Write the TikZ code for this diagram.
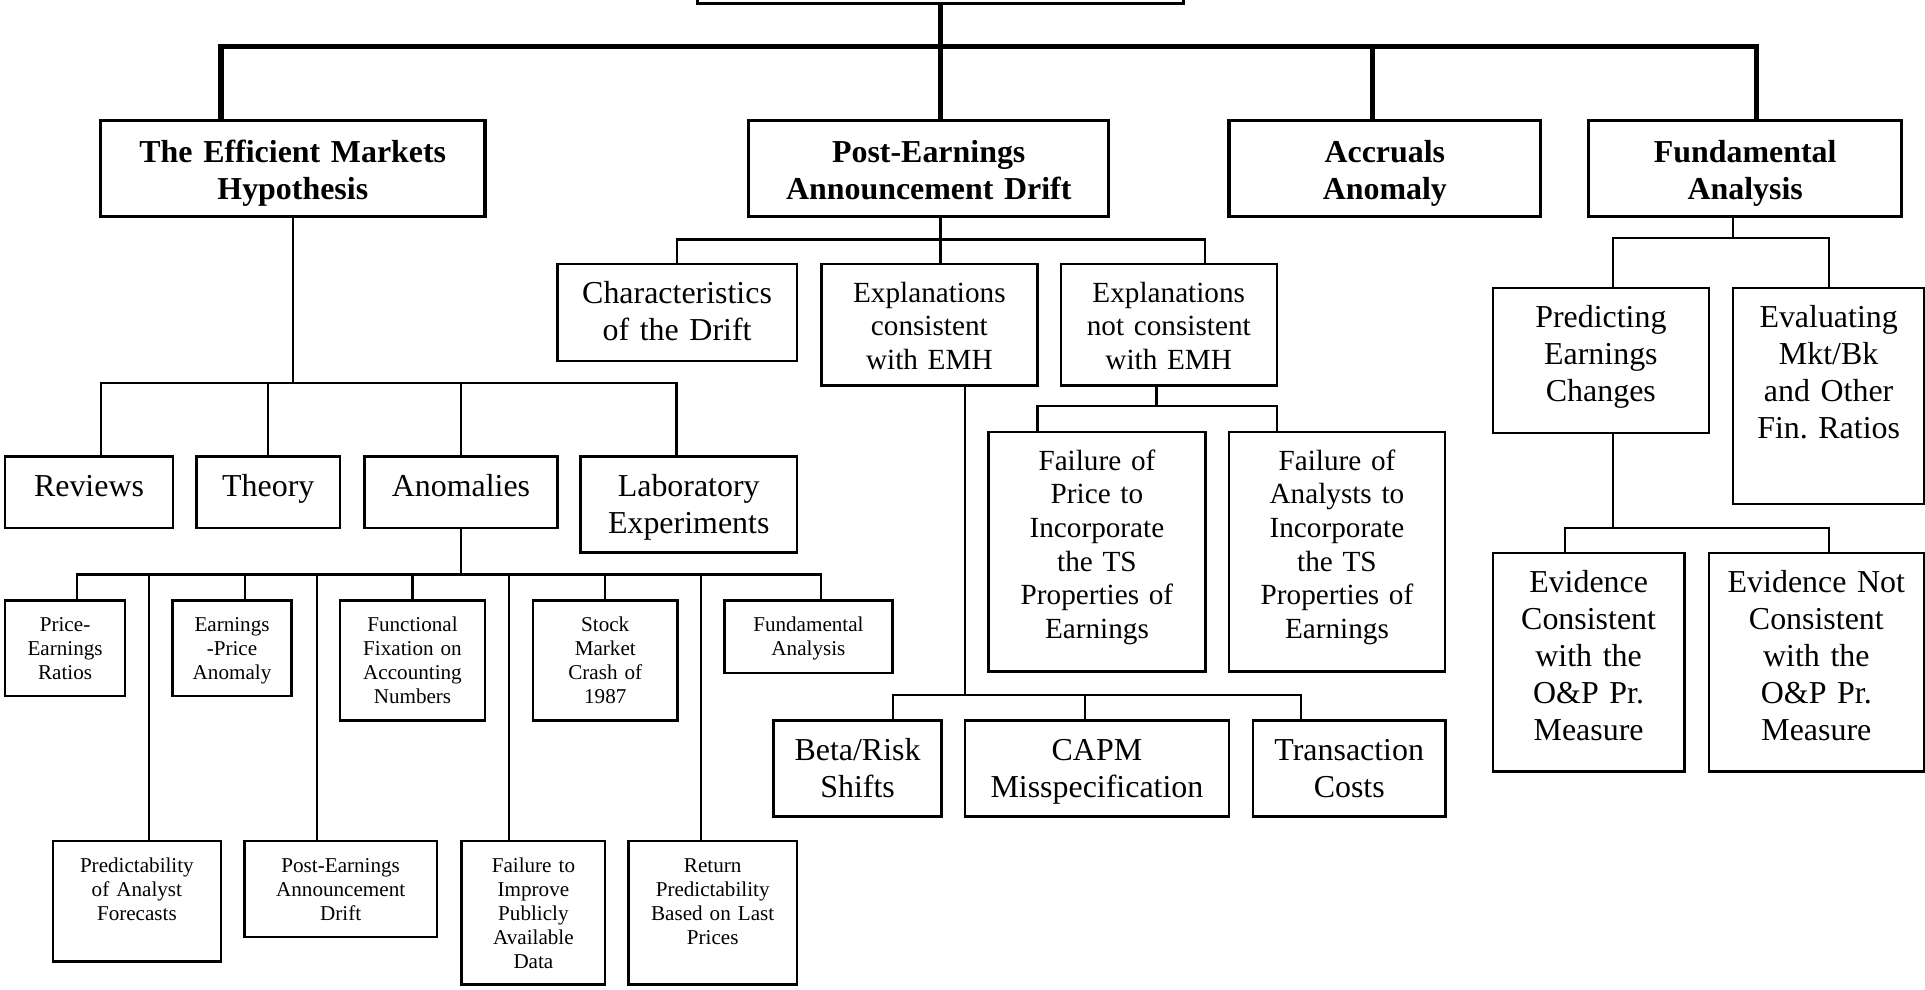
\documentclass[tikz,border=0pt]{standalone}
\usepackage{fontspec}
\setmainfont{Liberation Serif}
\frenchspacing
\tikzset{
  headbox/.style={draw, line width=2.6pt, anchor=north, align=center, inner sep=0pt,
    text height=34pt, font=\bfseries\fontsize{26}{30}\selectfont},
  catbox/.style={draw, line width=2pt, anchor=north, align=center, inner sep=0pt,
    text height=32.5pt, font=\fontsize{26}{30}\selectfont},
  midbox/.style={catbox, text height=31pt, font=\fontsize{23.8}{27.4}\selectfont},
  smallbox/.style={catbox, text height=25.5pt, font=\fontsize{17.2}{19.6}\selectfont},
  trunk/.style={line width=4.3pt},
  link/.style={line width=1.8pt}
}
\begin{document}
\begin{tikzpicture}[x=1pt, y=-1pt]
      \useasboundingbox (0,0) rectangle (1568,806);
      % top level
      \node[headbox, text width=396pt, text depth=47.3pt] (root) at (766,-80) {};
      \node[headbox, text width=313pt, text depth=44pt] (emh) at (238.5,97) {The Efficient Markets\\Hypothesis};
      \node[headbox, text width=293pt, text depth=44pt] (pead) at (756.5,97) {Post-Earnings\\Announcement Drift};
      \node[headbox, text width=254pt, text depth=44pt] (accr) at (1128,97) {Accruals\\Anomaly};
      \node[headbox, text width=255pt, text depth=44pt] (fund) at (1421.5,97) {Fundamental\\Analysis};
      \coordinate (mainbar) at (766,38);
      \draw[trunk] (root.south) -- (root.south |- pead.north);
      \draw[trunk] ([xshift=-58.5pt]emh.north) |- (mainbar) -| ([xshift=9.5pt]fund.north);
      \draw[trunk] ([xshift=-10pt]accr.north) -- ([xshift=-10pt]accr.north |- mainbar);
      % efficient markets
      \node[catbox, text width=137pt, text depth=25.5pt] (reviews) at (72.5,371) {Reviews};
      \node[catbox, text width=117pt, text depth=25.5pt] (theory) at (218.5,371) {Theory};
      \node[catbox, text width=157pt, text depth=25.5pt] (anom) at (375.5,371) {Anomalies};
      \node[catbox, text width=176pt, text depth=45.5pt] (lab) at (561,371) {Laboratory\\Experiments};
      \node[smallbox, text width=98pt, text depth=52.5pt] (pe) at (53,488) {Price-\\Earnings\\Ratios};
      \node[smallbox, text width=97pt, text depth=52.5pt] (ep) at (189,488) {Earnings\\-Price\\Anomaly};
      \node[smallbox, text width=118pt, text depth=72.5pt] (ff) at (336,488) {Functional\\Fixation on\\Accounting\\Numbers};
      \node[smallbox, text width=118pt, text depth=72.5pt] (crash) at (493,488) {Stock\\Market\\Crash of\\1987};
      \node[smallbox, text width=137pt, text depth=33.5pt] (fa) at (658.5,488) {Fundamental\\Analysis};
      \node[smallbox, text width=137pt, text depth=72.5pt] (predict) at (111.5,684) {Predictability\\of Analyst\\Forecasts};
      \node[smallbox, text width=157pt, text depth=52.5pt] (pead2) at (277.5,684) {Post-Earnings\\Announcement\\Drift};
      \node[smallbox, text width=117pt, text depth=91.5pt] (fail) at (434.5,684) {Failure to\\Improve\\Publicly\\Available\\Data};
      \node[smallbox, text width=137pt, text depth=91.5pt] (retpred) at (580.5,684) {Return\\Predictability\\Based on Last\\Prices};
      \coordinate (emhbar) at (239,312);
      \coordinate (anombar) at (375.5,468);
      \begin{scope}[link]
        \draw (emh.south) -- (emh.south |- emhbar);
        \draw ([xshift=9.5pt]reviews.north) |- (emhbar) -| ([xshift=-10pt]lab.north);
        \draw (theory.north) -- (theory.north |- emhbar);
        \draw (anom.north) -- (anom.north |- emhbar);
        \draw (anom.south) -- (anom.south |- anombar);
        \draw ([xshift=10pt]pe.north) |- (anombar) -| ([xshift=10pt]fa.north);
        \draw ([xshift=10pt]predict.north) -- ([xshift=10pt]predict.north |- anombar);
        \draw ([xshift=10.5pt]ep.north) -- ([xshift=10.5pt]ep.north |- anombar);
        \draw ([xshift=-19pt]pead2.north) -- ([xshift=-19pt]pead2.north |- anombar);
        \draw (ff.north) -- (ff.north |- anombar);
        \draw ([xshift=-20pt]fail.north) -- ([xshift=-20pt]fail.north |- anombar);
        \draw (crash.north) -- (crash.north |- anombar);
        \draw ([xshift=-9.5pt]retpred.north) -- ([xshift=-9.5pt]retpred.north |- anombar);
      \end{scope}
      % post-earnings announcement drift
      \node[catbox, text width=195pt, text depth=46.5pt] (chars) at (551.5,214) {Characteristics\\of the Drift};
      \node[midbox, text width=176pt, text depth=68pt] (expc) at (757,214) {Explanations\\consistent\\with EMH};
      \node[midbox, text width=176pt, text depth=68pt] (expn) at (952,214) {Explanations\\not consistent\\with EMH};
      \node[midbox, text width=177pt, text depth=164pt] (fprice) at (893.5,351) {Failure of\\Price to\\Incorporate\\the TS\\Properties of\\Earnings};
      \node[midbox, text width=176pt, text depth=164pt] (fanal) at (1089,351) {Failure of\\Analysts to\\Incorporate\\the TS\\Properties of\\Earnings};
      \node[catbox, text width=137pt, text depth=45.5pt] (beta) at (698.5,586) {Beta/Risk\\Shifts};
      \node[catbox, text width=215pt, text depth=45.5pt] (capm) at (893.5,586) {CAPM\\Misspecification};
      \node[catbox, text width=157pt, text depth=45.5pt] (trans) at (1099,586) {Transaction\\Costs};
      \coordinate (peadbar) at (766,195);
      \coordinate (expnbar) at (942,331);
      \coordinate (expcbar) at (786,566);
      \begin{scope}[link]
        \draw ([xshift=9.5pt]pead.south) -- ([xshift=9.5pt]pead.south |- expc.north);
        \draw (chars.north) |- (peadbar) -| ([xshift=29.5pt]expn.north);
        \draw ([xshift=-10pt]expn.south) -- ([xshift=-10pt]expn.south |- expnbar);
        \draw ([xshift=-48.5pt]fprice.north) |- (expnbar) -| ([xshift=-49pt]fanal.north);
        \draw ([xshift=29pt]expc.south) -- ([xshift=29pt]expc.south |- expcbar);
        \draw ([xshift=29pt]beta.north) |- (expcbar) -| ([xshift=-39pt]trans.north);
        \draw ([xshift=-9.5pt]capm.north) -- ([xshift=-9.5pt]capm.north |- expcbar);
      \end{scope}
      % fundamental analysis
      \node[catbox, text width=176pt, text depth=85.5pt] (predch) at (1304,233.5) {Predicting\\Earnings\\Changes};
      \node[catbox, text width=156pt, text depth=143.5pt] (evalr) at (1489.5,233.5) {Evaluating\\Mkt/Bk\\and Other\\Fin. Ratios};
      \node[catbox, text width=156pt, text depth=145.5pt] (evc) at (1294,449.5) {Evidence\\Consistent\\with the\\O\&P Pr.\\Measure};
      \node[catbox, text width=175pt, text depth=145.5pt] (evn) at (1479.5,449.5) {Evidence Not\\Consistent\\with the\\O\&P Pr.\\Measure};
      \coordinate (fundbar) at (1411.5,194);
      \coordinate (predbar) at (1314,430);
      \begin{scope}[link]
        \draw ([xshift=-10pt]fund.south) -- ([xshift=-10pt]fund.south |- fundbar);
        \draw ([xshift=10pt]predch.north) |- (fundbar) -| (evalr.north);
        \draw ([xshift=10pt]predch.south) -- ([xshift=10pt]predch.south |- predbar);
        \draw ([xshift=-19.5pt]evc.north) |- (predbar) -| ([xshift=10.5pt]evn.north);
      \end{scope}
    \end{tikzpicture}
\end{document}
